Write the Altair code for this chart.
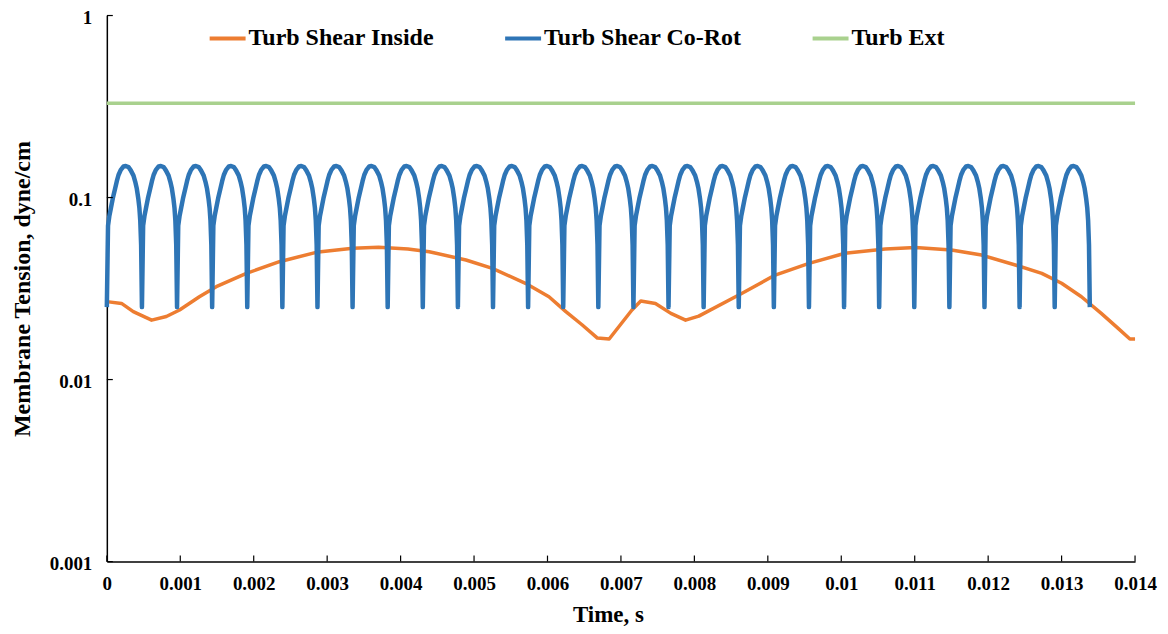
import altair as alt
import pandas as pd

# ---- data ----
inside_t = [0.0, 0.0002, 0.00036, 0.00061, 0.00081, 0.00099, 0.00126, 0.00149, 0.0019,
            0.00235, 0.00285, 0.00335, 0.0037, 0.0041, 0.00439, 0.00489, 0.00525, 0.0057,
            0.00602, 0.00625, 0.00647, 0.00668, 0.00684, 0.00715, 0.00727, 0.00747,
            0.00768, 0.00788, 0.00806, 0.00865, 0.0091, 0.00956, 0.01005, 0.0106, 0.01101,
            0.0115, 0.01191, 0.01237, 0.01273, 0.013, 0.01327, 0.01354, 0.01377, 0.01393, 0.014]
inside_v = [0.0268, 0.0262, 0.0236, 0.0212, 0.0222, 0.0241, 0.0285, 0.0324, 0.0383,
            0.0444, 0.0500, 0.0527, 0.0533, 0.0522, 0.0504, 0.0454, 0.0408, 0.0338,
            0.0285, 0.0236, 0.0200, 0.0169, 0.0167, 0.0241, 0.0270, 0.0262,
            0.0231, 0.0212, 0.0223, 0.0298, 0.0375, 0.0435, 0.0494, 0.0521, 0.0532,
            0.0515, 0.0483, 0.0426, 0.0383, 0.0338, 0.0285, 0.0231, 0.0191, 0.0167, 0.0167]

corot_troughs = [0.0, 0.000478, 0.000956, 0.001434, 0.001912, 0.00239, 0.002868, 0.003346,
                 0.003824, 0.004302, 0.00478, 0.005258, 0.005736, 0.006214, 0.006692,
                 0.00717, 0.007648, 0.008126, 0.008604, 0.009082, 0.00956, 0.010038,
                 0.010516, 0.010994, 0.011472, 0.01195, 0.012428, 0.012906, 0.013384]
cycle_offsets = [0.0, 0.0000163, 0.000034, 0.0000544, 0.0000815, 0.000113, 0.000136,
                 0.000159, 0.00019, 0.000227, 0.000258, 0.000295, 0.000326, 0.000363,
                 0.000387, 0.000408, 0.000428, 0.000443, 0.000455, 0.000467]
cycle_values = [0.025, 0.07, 0.079, 0.087, 0.099, 0.112, 0.123, 0.133, 0.142, 0.148,
                0.149, 0.147, 0.141, 0.132, 0.122, 0.112, 0.099, 0.088, 0.075, 0.055]

ext_t = [0.0, 0.014]
ext_v = [0.33, 0.33]

x_ticks = [0, 0.001, 0.002, 0.003, 0.004, 0.005, 0.006, 0.007, 0.008, 0.009,
           0.01, 0.011, 0.012, 0.013, 0.014]
y_ticks = [0.001, 0.01, 0.1, 1]

names = ["Turb Shear Inside", "Turb Shear Co-Rot", "Turb Ext"]
colors = ["#ED7D31", "#2E75B6", "#A9D18E"]

# ---- tables ----
df_in = pd.DataFrame({"t": inside_t, "v": inside_v, "s": names[0]})
corot_t, corot_v = [], []
for T in corot_troughs[:-1]:
    for o, v in zip(cycle_offsets, cycle_values):
        corot_t.append(T + o)
        corot_v.append(v)
corot_t.append(corot_troughs[-1])
corot_v.append(cycle_values[0])
df_co = pd.DataFrame({"t": corot_t, "v": corot_v, "s": names[1]})
df_ext = pd.DataFrame({"t": ext_t, "v": ext_v, "s": names[2]})

FONT = "Liberation Serif"

xscale = alt.Scale(domain=[0, 0.014], nice=False, zero=False)
yscale = alt.Scale(type="log", domain=[0.001, 1], nice=False)

xax = alt.Axis(values=x_ticks, format="~g", title="Time, s", ticks=False, grid=False,
               labelFont=FONT, labelFontWeight="bold", labelFontSize=19, labelColor="black",
               labelPadding=13, domainColor="black", domainWidth=1.5,
               titleFont=FONT, titleFontWeight="bold", titleFontSize=23, titleColor="black",
               titleX=502, titleY=60, titleBaseline="alphabetic", labelFlush=False)
yax = alt.Axis(values=y_ticks, format="~g", title="Membrane Tension, dyne/cm", ticks=False,
               grid=False, labelFont=FONT, labelFontWeight="bold", labelFontSize=19,
               labelColor="black", labelPadding=15, labelOffset=2, domainColor="black",
               domainWidth=1.5,
               titleFont=FONT, titleFontWeight="bold", titleFontSize=24, titleColor="black",
               titleX=-84, titleBaseline="middle", labelFlush=False)

color = alt.Color("s:N", scale=alt.Scale(domain=names, range=colors),
                  legend=alt.Legend(title=None, orient="none", legendX=101, legendY=3,
                                    direction="horizontal", symbolType="stroke",
                                    symbolSize=1296, symbolStrokeWidth=4,
                                    labelFont=FONT, labelFontWeight="bold", labelFontSize=24,
                                    labelColor="black", columnPadding=63, labelOffset=1,
                                    labelLimit=0))

base_x = alt.X("t:Q", scale=xscale, axis=xax)
base_y = alt.Y("v:Q", scale=yscale, axis=yax)

l_in = alt.Chart(df_in).mark_line(strokeWidth=3.5, strokeJoin="round").encode(
    x=base_x, y=base_y, color=color)
l_co = alt.Chart(df_co).mark_line(strokeWidth=4.5, strokeJoin="round").encode(
    x=base_x, y=base_y, color=color)
l_ext = alt.Chart(df_ext).mark_line(strokeWidth=3.5).encode(x=base_x, y=base_y, color=color)

xt = alt.Chart(pd.DataFrame({"t": x_ticks})).mark_rule(color="black", strokeWidth=1.2).encode(
    x=alt.X("t:Q", scale=xscale), y=alt.value(547), y2=alt.value(541))
yt = alt.Chart(pd.DataFrame({"v": y_ticks})).mark_rule(color="black", strokeWidth=1.2).encode(
    y=alt.Y("v:Q", scale=yscale), x=alt.value(0), x2=alt.value(6))

chart = alt.layer(l_in, l_co, l_ext, xt, yt).properties(
    width=1030, height=547,
    autosize=alt.AutoSizeParams(type="none"),
    padding={"left": 99, "top": 7, "right": 25, "bottom": 64},
    background="white",
).configure_view(stroke=None)

chart.save("out.html", embed_options={"renderer": "svg", "actions": False})
